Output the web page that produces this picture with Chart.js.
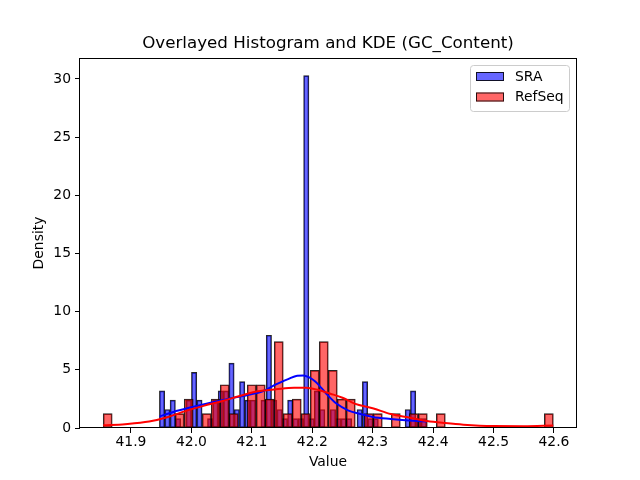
<!DOCTYPE html>
<html>
<head>
<meta charset="utf-8">
<script src="https://cdn.jsdelivr.net/npm/chart.js@4.4.1/dist/chart.umd.min.js"></script>
<style>
    html, body { margin: 0; padding: 0; background: #fff; }
</style>
</head>
<body>
<canvas id="graphique" width="640" height="480"></canvas>
<script>
// Histogramme SRA : 50 classes, début et largeur de classe
const sraDebut = 41.947;
const sraLargeur = 0.00884;
const sraDensite = [
    3.19, 1.59, 2.39, 0.80, 0, 2.39, 4.78, 2.39, 0, 0.80,
    2.39, 3.19, 3.19, 5.58, 1.59, 3.99, 2.39, 2.39, 0, 2.39,
    7.97, 2.39, 1.59, 0.80, 2.39, 0.80, 0.80, 30.29, 0.80, 3.19,
    1.59, 0, 1.59, 0.80, 0.80, 0.80, 0, 1.59, 3.99, 0.80,
    0.80, 0, 0, 0, 0, 0, 1.59, 3.19, 0.80, 0.80
];

// Histogramme RefSeq : 50 classes
const refseqDebut = 41.854;
const refseqLargeur = 0.0149;
const refseqDensite = [
    1.24, 0, 0, 0, 0, 0, 0, 0, 1.24, 2.48,
    0, 1.24, 2.48, 3.72, 1.24, 0, 3.72, 3.72, 2.48, 7.43,
    1.24, 2.48, 1.24, 4.95, 7.43, 4.95, 2.48, 2.48, 0, 1.24,
    1.24, 0, 1.24, 0, 1.24, 1.24, 0, 1.24, 0, 0,
    0, 0, 0, 0, 0, 0, 0, 0, 0, 1.24
];

// Courbes KDE
const sraKdeX = [41.947, 41.97, 42.0, 42.03, 42.06, 42.09, 42.12, 42.14, 42.16, 42.175, 42.185,
                 42.195, 42.205, 42.215, 42.225, 42.24, 42.26, 42.28, 42.30, 42.33, 42.36, 42.389];
const sraKdeY = [1.0, 1.38, 1.78, 2.15, 2.5, 2.8, 3.2, 3.75, 4.2, 4.5, 4.52,
                 4.35, 4.0, 3.45, 2.85, 2.1, 1.5, 1.2, 0.95, 0.78, 0.65, 0.55];

const refseqKdeX = [41.854, 41.89, 41.93, 41.96, 41.99, 42.02, 42.05, 42.08, 42.11, 42.14, 42.17, 42.19,
                    42.21, 42.23, 42.25, 42.27, 42.30, 42.33, 42.36, 42.39, 42.42, 42.45, 42.50, 42.55, 42.599];
const refseqKdeY = [0.23, 0.33, 0.55, 0.92, 1.45, 1.9, 2.3, 2.75, 3.15, 3.33, 3.47, 3.47,
                    3.27, 2.95, 2.6, 2.1, 1.7, 1.2, 0.9, 0.6, 0.42, 0.28, 0.17, 0.16, 0.22];

const ticksX = [41.9, 42.0, 42.1, 42.2, 42.3, 42.4, 42.5, 42.6];
const ticksY = [0, 5, 10, 15, 20, 25, 30];
const xMin = 41.8156, xMax = 42.6365;
const yMax = 31.8;

const titre = 'Overlayed Histogram and KDE (GC_Content)';

// centres des classes de l'histogramme
function centresClasses(debut, largeur, valeurs) {
    return valeurs.map((v, i) => ({ x: debut + (i + 0.5) * largeur, y: v }));
}
function pointsKde(xs, ys) {
    return xs.map((x, i) => ({ x: x, y: ys[i] }));
}

Chart.defaults.font.family = "'DejaVu Sans', sans-serif";
Chart.defaults.font.size = 13.9;
Chart.defaults.color = '#000';

// cadre complet + titre + légende façon matplotlib
const habillage = {
    id: 'habillage',
    afterDraw(chart) {
        const ctx = chart.ctx;
        const a = chart.chartArea;
        ctx.save();

        // cadre
        ctx.strokeStyle = '#000';
        ctx.lineWidth = 1;
        ctx.strokeRect(Math.round(a.left) - 0.5, Math.round(a.top) + 0.5,
                       Math.round(a.right - a.left) + 1, Math.round(a.bottom - a.top) - 1);

        // titre
        ctx.fillStyle = '#000';
        ctx.font = "16.7px 'DejaVu Sans', sans-serif";
        ctx.textAlign = 'center';
        ctx.textBaseline = 'middle';
        ctx.fillText(titre, (a.left + a.right) / 2, a.top - 14);

        // légende
        const lx = a.right - 106, ly = a.top + 7;
        ctx.fillStyle = 'rgba(255,255,255,0.8)';
        ctx.strokeStyle = '#cccccc';
        ctx.beginPath();
        ctx.roundRect(lx + 0.5, ly + 0.5, 99, 46, 3);
        ctx.fill();
        ctx.stroke();

        const entrees = chart.data.datasets.filter(d => d.type === 'bar');
        entrees.forEach((d, i) => {
            const py = ly + 7 + i * 20.5;
            ctx.fillStyle = d.backgroundColor;
            ctx.fillRect(lx + 6, py, 28, 9);
            ctx.strokeStyle = d.borderColor;
            ctx.strokeRect(lx + 6.5, py + 0.5, 27, 8);
            ctx.fillStyle = '#000';
            ctx.font = "13.9px 'DejaVu Sans', sans-serif";
            ctx.textAlign = 'left';
            ctx.textBaseline = 'middle';
            ctx.fillText(d.label, lx + 45, py + 5);
        });
        ctx.restore();
    }
};

const grilleTicks = {
    display: true,
    offset: false,
    drawOnChartArea: false,
    drawTicks: true,
    tickLength: 5,
    tickColor: '#000',
    tickWidth: 1
};

new Chart(document.getElementById('graphique'), {
    type: 'bar',
    data: {
        datasets: [
            {
                type: 'bar',
                label: 'SRA',
                data: centresClasses(sraDebut, sraLargeur, sraDensite),
                xAxisID: 'x',
                backgroundColor: 'rgba(0,0,255,0.6)',
                borderColor: 'rgba(0,0,0,0.85)',
                borderWidth: 1,
                borderSkipped: false,
                barPercentage: 1,
                categoryPercentage: 1,
                grouped: false,
                order: 3
            },
            {
                type: 'bar',
                label: 'RefSeq',
                data: centresClasses(refseqDebut, refseqLargeur, refseqDensite),
                xAxisID: 'x2',
                backgroundColor: 'rgba(255,0,0,0.6)',
                borderColor: 'rgba(0,0,0,0.85)',
                borderWidth: 1,
                borderSkipped: false,
                barPercentage: 1,
                categoryPercentage: 1,
                grouped: false,
                order: 2
            },
            {
                type: 'line',
                label: 'KDE SRA',
                data: pointsKde(sraKdeX, sraKdeY),
                xAxisID: 'x',
                borderColor: '#0000ff',
                borderWidth: 2,
                pointRadius: 0,
                fill: false,
                cubicInterpolationMode: 'monotone',
                order: 1
            },
            {
                type: 'line',
                label: 'KDE RefSeq',
                data: pointsKde(refseqKdeX, refseqKdeY),
                xAxisID: 'x',
                borderColor: '#ff0000',
                borderWidth: 2,
                pointRadius: 0,
                fill: false,
                cubicInterpolationMode: 'monotone',
                order: 0
            }
        ]
    },
    options: {
        responsive: false,
        animation: false,
        layout: { padding: { top: 58, right: 64, left: 0, bottom: 0 } },
        plugins: {
            legend: { display: false },
            title: { display: false },
            tooltip: { enabled: false }
        },
        scales: {
            x: {
                type: 'linear',
                position: 'bottom',
                offset: false,
                min: xMin,
                max: xMax,
                afterBuildTicks: axe => { axe.ticks = ticksX.map(v => ({ value: v })); },
                afterFit: axe => { axe.height = 52; },
                ticks: { padding: 1, maxRotation: 0, callback: v => v.toFixed(1) },
                grid: grilleTicks,
                border: { display: false },
                title: { display: true, text: 'Value', padding: { top: 0, bottom: 9 } }
            },
            x2: {
                type: 'linear',
                position: 'bottom',
                display: false,
                offset: false,
                min: xMin,
                max: xMax
            },
            y: {
                type: 'linear',
                min: 0,
                max: yMax,
                afterBuildTicks: axe => { axe.ticks = ticksY.map(v => ({ value: v })); },
                afterFit: axe => { axe.width = 80; },
                ticks: { padding: 4 },
                grid: grilleTicks,
                border: { display: false },
                title: { display: true, text: 'Density', padding: { top: 31, bottom: 0 } }
            }
        }
    },
    plugins: [habillage]
});
</script>
</body>
</html>
